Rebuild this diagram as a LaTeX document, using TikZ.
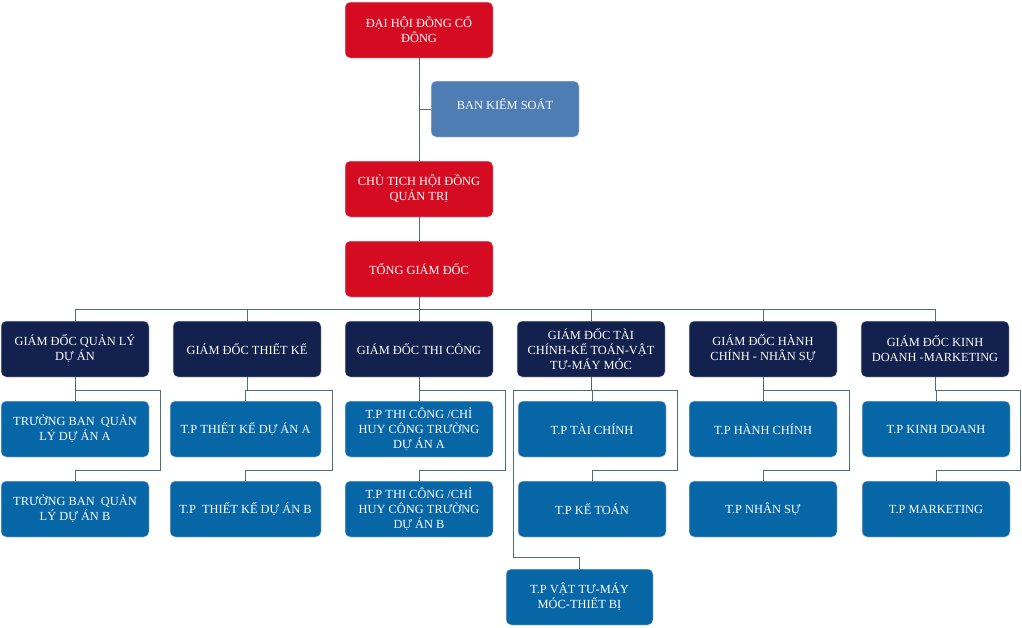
\documentclass[tikz,border=0pt]{standalone}
\usepackage{fontspec}
\setmainfont{Liberation Serif}
\definecolor{boardred}{HTML}{D50B21}
\definecolor{auditblue}{HTML}{4E7DB3}
\definecolor{dirnavy}{HTML}{12214D}
\definecolor{deptblue}{HTML}{0766A6}
\definecolor{linkgray}{HTML}{4F6E73}
\begin{document}
\begin{tikzpicture}[x=1pt,y=-1pt,
  box/.style={rectangle, rounded corners=5pt, minimum width=148pt, minimum height=56pt,
    inner sep=0pt, align=center, text=white, draw=white!70!gray, line width=0.5pt,
    font=\fontsize{12.4}{15}\selectfont},
  board/.style={box, fill=boardred},
  audit/.style={box, fill=auditblue},
  director/.style={box, fill=dirnavy},
  dept/.style={box, fill=deptblue},
  link/.style={draw=linkgray, line width=0.9pt}]
\useasboundingbox (0,0) rectangle (1022,627);

% top of the hierarchy
\node[board] (dhd) at (419,30) {ĐẠI HỘI ĐỒNG CỔ\\ĐÔNG};
\node[audit] (bks) at (505,109) {\raisebox{10pt}{BAN KIỂM SOÁT}};
\node[board] (ct) at (419,189) {CHỦ TỊCH HỘI ĐỒNG\\QUẢN TRỊ};
\node[board] (tgd) at (419,269) {TỔNG GIÁM ĐỐC};

% directors
\node[director] (g1) at (75,349) {GIÁM ĐỐC QUẢN LÝ\\DỰ ÁN};
\node[director] (g2) at (247,349) {GIÁM ĐỐC THIẾT KẾ};
\node[director] (g3) at (419,349) {GIÁM ĐỐC THI CÔNG};
\node[director] (g4) at (591,349) {GIÁM ĐỐC TÀI\\CHÍNH-KẾ TOÁN-VẬT\\TƯ-MÁY MÓC};
\node[director] (g5) at (763,349) {GIÁM ĐỐC HÀNH\\CHÍNH - NHÂN SỰ};
\node[director] (g6) at (935,349) {GIÁM ĐỐC KINH\\DOANH -MARKETING};

% departments
\node[dept] (d1a) at (75,429) {TRƯỞNG BAN\ \ QUẢN\\LÝ DỰ ÁN A};
\node[dept] (d1b) at (75,509) {TRƯỞNG BAN\ \ QUẢN\\LÝ DỰ ÁN B};
\node[dept, minimum width=151pt] (d2a) at (245.5,429) {T.P THIẾT KẾ DỰ ÁN A};
\node[dept, minimum width=151pt] (d2b) at (245.5,509) {T.P\ \ THIẾT KẾ DỰ ÁN B};
\node[dept] (d3a) at (419,429) {T.P THI CÔNG /CHỈ\\HUY CÔNG TRƯỜNG\\DỰ ÁN A};
\node[dept] (d3b) at (419,509) {T.P THI CÔNG /CHỈ\\HUY CÔNG TRƯỜNG\\DỰ ÁN B};
\node[dept] (d4a) at (592,429) {T.P TÀI CHÍNH};
\node[dept] (d4b) at (592,509) {T.P KẾ TOÁN};
\node[dept, minimum width=147pt] (d4c) at (579.5,597) {T.P VẬT TƯ-MÁY\\MÓC-THIẾT BỊ};
\node[dept] (d5a) at (763,429) {T.P HÀNH CHÍNH};
\node[dept] (d5b) at (763,509) {T.P NHÂN SỰ};
\node[dept] (d6a) at (936,429) {T.P KINH DOANH};
\node[dept] (d6b) at (936,509) {T.P MARKETING};

% connectors: board level
\coordinate (kb) at (419,109);
\draw[link] (dhd.south) -- (ct.north);
\draw[link] (kb) -- (bks.west);
\draw[link] (ct.south) -- (tgd.north);

% connectors: bus to directors
\coordinate (bus) at (419,309);
\draw[link] (tgd.south) -- (bus);
\draw[link] (g1.north) -- (g1.north |- bus) -- (g6.north |- bus) -- (g6.north);
\foreach \g in {g2,g3,g4,g5}
  \draw[link] (\g.north) -- (\g.north |- bus);

% connectors: directors to departments
\foreach \g/\a/\b/\r in {g1/d1a/d1b/160, g2/d2a/d2b/332, g3/d3a/d3b/505,
                         g4/d4a/d4b/677, g5/d5a/d5b/849, g6/d6a/d6b/1020} {
  \draw[link] (\g.south) -- (\g.south |- 0,390) -- (\r,390) -- (\r,470)
    -- (\b.north |- 0,470) -- (\b.north);
  \draw[link] (\g.south |- 0,390) -- (\a.north |- 0,390) -- (\a.north);
}
\draw[link] (g4.south |- 0,390) -- (513,390) -- (513,557)
  -- (d4c.north |- 0,557) -- (d4c.north);
\end{tikzpicture}
\end{document}
